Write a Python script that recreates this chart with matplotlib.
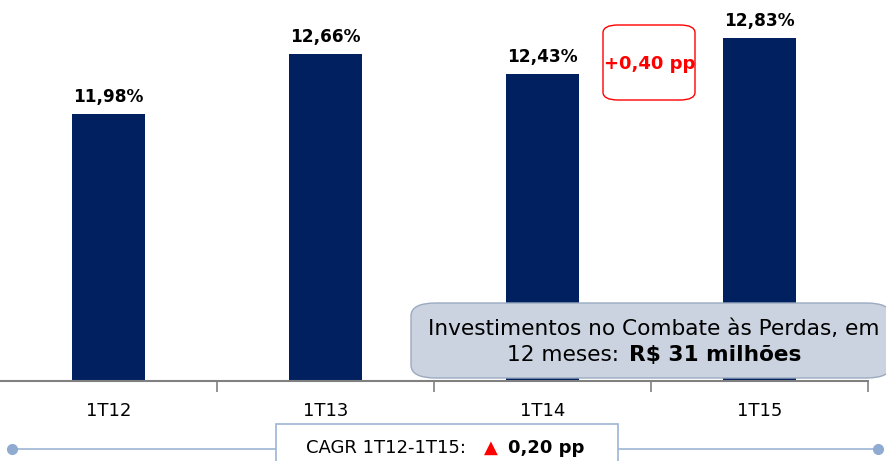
import matplotlib
matplotlib.use('Agg')
import matplotlib.pyplot as plt
from matplotlib.patches import FancyBboxPatch
from matplotlib.lines import Line2D

# ---- data ----
quarters = ['1T12', '1T13', '1T14', '1T15']
loss_pct = [11.98, 12.66, 12.43, 12.83]
delta_label = '+0,40 pp'
cagr_label = 'CAGR 1T12-1T15: '
cagr_value = '0,20 pp'

W, H = 887, 461
NAVY = '#002060'
plt.rcParams['font.family'] = ['DejaVu Sans']

fig = plt.figure(figsize=(W / 100, H / 100), dpi=100)
ax = fig.add_axes([0, 80 / H, 868 / W, 381 / H])

x = range(len(quarters))
ax.bar(x, loss_pct, width=0.335, color=NAVY, zorder=2)
for i, v in enumerate(loss_pct):
    ax.text(i, v + 0.09, f'{v:.2f}'.replace('.', ',') + '%',
            ha='center', va='bottom', fontsize=12.2, fontweight='bold')

ax.set_xlim(-0.5, len(quarters) - 0.5)
ax.set_ylim(9.0, 13.26)
for s in ('top', 'right', 'left'):
    ax.spines[s].set_visible(False)
ax.spines['bottom'].set_color('#808080')
ax.spines['bottom'].set_linewidth(1.5)
ax.set_yticks([])
ax.set_xticks(list(x))
ax.set_xticklabels(quarters, fontsize=13)
ax.tick_params(axis='x', which='major', length=0, pad=15)
ax.set_xticks([i + 0.5 for i in x], minor=True)
ax.tick_params(axis='x', which='minor', length=8, color='#808080', width=1.2)


def fx(px):
    return px / W


def fy(py):
    return 1 - py / H


# red delta box between 1T14 and 1T15
box = FancyBboxPatch((fx(603), fy(100)), fx(92), 75 / H,
                     boxstyle='round,pad=0,rounding_size=0.017',
                     transform=fig.transFigure, fc='white', ec='red', lw=1)
fig.add_artist(box)
fig.text(fx(650), fy(64), delta_label, color='red', fontsize=13,
         fontweight='bold', ha='center', va='center')

# info box
info = FancyBboxPatch((fx(411), fy(378)), fx(480), 75 / H,
                      boxstyle='round,pad=0,rounding_size=0.028',
                      transform=fig.transFigure, fc='#cbd3e0', ec='#9aaac0',
                      lw=1, zorder=5)
fig.add_artist(info)
fig.text(fx(654), fy(329), 'Investimentos no Combate às Perdas, em',
         fontsize=15.6, ha='center', va='center', zorder=6)
fig.text(fx(626), fy(355), '12 meses: ', fontsize=15.6, ha='right',
         va='center', zorder=6)
fig.text(fx(629), fy(355), 'R$ 31 milhões', fontsize=15.6, ha='left',
         va='center', fontweight='bold', zorder=6)

# bottom CAGR line and box
fig.add_artist(Line2D([fx(12), fx(878)], [fy(449), fy(449)],
                      transform=fig.transFigure, color='#9db5d6', lw=1.2,
                      marker='o', markersize=7, markevery=[0, 1],
                      markerfacecolor='#8fabd2', markeredgecolor='#8fabd2'))
cbox = FancyBboxPatch((fx(276), fy(466)), fx(342), 42 / H,
                      boxstyle='square,pad=0', transform=fig.transFigure,
                      fc='white', ec='#9db5d6', lw=1.2, zorder=5)
fig.add_artist(cbox)
fig.text(fx(306), fy(448), cagr_label, fontsize=13, ha='left', va='center',
         zorder=6)
fig.text(fx(484), fy(448), '▲', fontsize=13, color='red', ha='left',
         va='center', zorder=6)
fig.text(fx(508), fy(448), cagr_value, fontsize=13, fontweight='bold',
         ha='left', va='center', zorder=6)

fig.savefig('out.png', dpi=100)
